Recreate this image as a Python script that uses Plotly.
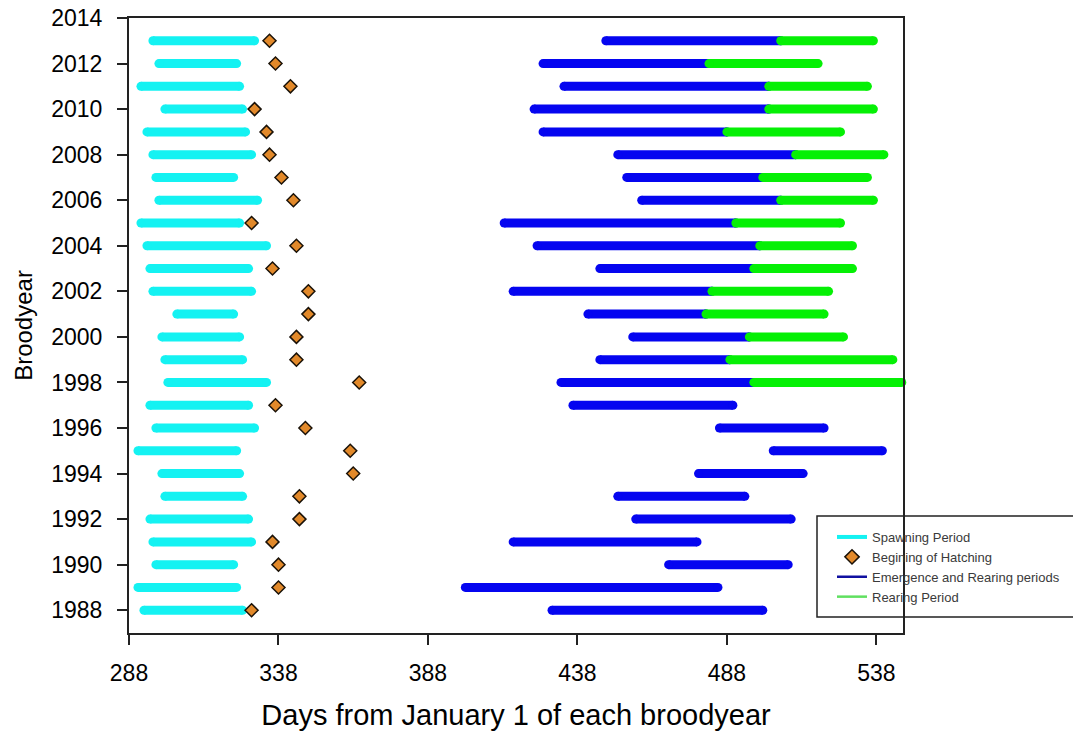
import plotly.graph_objects as go

years = list(range(1988, 2014))
spawn_start = [293, 291, 297, 296, 295, 300, 299, 291, 297, 295, 301, 300, 299,
               304, 296, 295, 294, 292, 298, 297, 296, 294, 300, 292, 298, 296]
spawn_end = [326, 324, 323, 329, 328, 326, 325, 324, 330, 328, 334, 326, 325,
             323, 329, 328, 334, 325, 331, 323, 329, 327, 326, 325, 324, 330]
hatch = [329, 338, 338, 336, 345, 345, 363, 362, 347, 337, 365, 344, 344,
         348, 348, 336, 344, 329, 343, 339, 335, 334, 330, 342, 337, 335]
emerge_start = [429.5, 400.5, 468.5, 416.5, 457.5, 451.5, 478.5, 503.5, 485.5, 436.5,
                432.5, 445.5, 456.5, 441.5, 416.5, 445.5, 424.5, 413.5, 459.5, 454.5,
                451.5, 426.5, 423.5, 433.5, 426.5, 447.5]
rearing_start = [None, None, None, None, None, None, None, None, None, None,
                 497, 489, 495.5, 481, 483, 497, 499, 491, 506, 500,
                 511, 488, 502, 502, 482, 506]
period_end = [500, 485, 508.5, 478, 509.5, 494, 513.5, 540, 520.5, 490,
              546.5, 543.5, 527, 520.5, 522, 530, 530, 526, 537, 535,
              540.5, 526, 537, 535, 518.5, 537]
x_ticks = [288, 338, 388, 438, 488, 538]
y_ticks = list(range(1988, 2015, 2))

CYAN = "#14F2F2"
BLUE = "#0505F0"
GREEN = "#05F005"
ORANGE = "#E2892A"
LW = 9
FONT = "Liberation Sans, Arial, sans-serif"

fig = go.Figure()


def add_bars(starts, ends, ys, color):
    xs, yy, cx, cy = [], [], [], []
    for s, e, y in zip(starts, ends, ys):
        if s is None or e is None:
            continue
        xs += [s, e, None]
        yy += [y, y, None]
        cx += [s, e]
        cy += [y, y]
    fig.add_trace(go.Scatter(x=xs, y=yy, mode="lines", line=dict(color=color, width=LW),
                             showlegend=False, hoverinfo="skip"))
    fig.add_trace(go.Scatter(x=cx, y=cy, mode="markers", cliponaxis=False,
                             marker=dict(color=color, size=LW, symbol="circle", line=dict(width=0)),
                             showlegend=False, hoverinfo="skip"))


add_bars(spawn_start, spawn_end, years, CYAN)
blue_end = [r if r is not None else e for r, e in zip(rearing_start, period_end)]
add_bars(emerge_start, blue_end, years, BLUE)
add_bars(rearing_start, [e if r is not None else None for r, e in zip(rearing_start, period_end)], years, GREEN)

fig.add_trace(go.Scatter(x=hatch, y=years, mode="markers", cliponaxis=False,
                         marker=dict(symbol="diamond", size=10, color=ORANGE,
                                     line=dict(color="#1a1208", width=1.5)),
                         showlegend=False))

# legend entries
fig.add_trace(go.Scatter(x=[None], y=[None], mode="lines", name="Spawning Period",
                         line=dict(color=CYAN, width=4)))
fig.add_trace(go.Scatter(x=[None], y=[None], mode="markers", name="Begining of Hatching",
                         marker=dict(symbol="diamond", size=11, color=ORANGE,
                                     line=dict(color="#1a1208", width=1.5))))
fig.add_trace(go.Scatter(x=[None], y=[None], mode="lines", name="Emergence and Rearing periods",
                         line=dict(color="#1010A0", width=2.5)))
fig.add_trace(go.Scatter(x=[None], y=[None], mode="lines", name="Rearing Period",
                         line=dict(color="#60E060", width=2.5)))

L, R, T, B = 129, 903, 18, 633
W, H = 1073, 735

fig.update_layout(
    width=W, height=H,
    margin=dict(l=L, r=W - R, t=T, b=H - B, autoexpand=False),
    paper_bgcolor="white", plot_bgcolor="white",
    font=dict(family=FONT, color="black"),
    showlegend=True,
    legend=dict(x=(832 - L) / (R - L), y=(B - 522) / (B - T), xanchor="left", yanchor="top",
                bgcolor="rgba(0,0,0,0)", borderwidth=0,
                font=dict(family=FONT, size=13, color="#3a3a3a"),
                tracegroupgap=0),
    shapes=[dict(type="rect", xref="paper", yref="paper",
                 x0=(817 - L) / (R - L), x1=(1085 - L) / (R - L),
                 y0=(B - 617) / (B - T), y1=(B - 516) / (B - T),
                 line=dict(color="#222", width=1.5), fillcolor="white", layer="below")],
)

fig.update_xaxes(range=[288, 546.9], tickvals=x_ticks, ticktext=[str(v) for v in x_ticks],
                 showgrid=False, zeroline=False, showline=True, linecolor="#222", linewidth=2,
                 mirror=True, ticks="outside", ticklen=10, tickwidth=1.5, tickcolor="#222",
                 tickfont=dict(size=23, family=FONT), ticklabelstandoff=8,
                 title=dict(text="Days from January 1 of each broodyear",
                            font=dict(size=29, family=FONT), standoff=20))
fig.update_yaxes(range=[1987, 2014], tickvals=y_ticks, ticktext=[str(v) for v in y_ticks],
                 showgrid=False, zeroline=False, showline=True, linecolor="#222", linewidth=2,
                 mirror=True, ticks="outside", ticklen=10, tickwidth=1.5, tickcolor="#222",
                 tickfont=dict(size=23, family=FONT), ticklabelstandoff=10,
                 title=dict(text="Broodyear", font=dict(size=24, family=FONT), standoff=12))

fig.write_html("out.html")
